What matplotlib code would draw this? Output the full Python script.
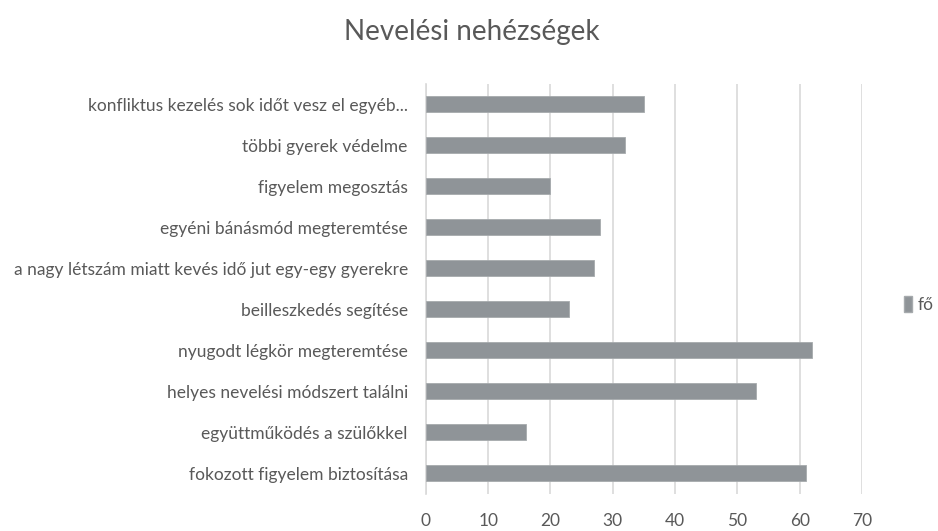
import matplotlib
matplotlib.use('Agg')
import matplotlib.pyplot as plt
from matplotlib.patches import Patch

plt.rcParams['font.family'] = ['Lato', 'DejaVu Sans']

categories = [
    'konfliktus kezelés sok időt vesz el egyéb...',
    'többi gyerek védelme',
    'figyelem megosztás',
    'egyéni bánásmód megteremtése',
    'a nagy létszám miatt kevés idő jut egy-egy gyerekre',
    'beilleszkedés segítése',
    'nyugodt légkör megteremtése',
    'helyes nevelési módszert találni',
    'együttműködés a szülőkkel',
    'fokozott figyelem biztosítása',
]
values = [35, 32, 20, 28, 27, 23, 62, 53, 16, 61]
xticks = [0, 10, 20, 30, 40, 50, 60, 70]
series_name = 'fő'
title = 'Nevelési nehézségek'

bar_color = '#8f9498'
text_color = '#595959'
grid_color = '#d9d9d9'

fig = plt.figure(figsize=(9.38, 5.31), dpi=100)
ax = fig.add_axes([0.454, 0.0706, 0.465, 0.772])

ypos = list(range(len(categories)))
ax.barh(ypos, values, height=0.39, color=bar_color, edgecolor='#a6aaad', linewidth=0.6, zorder=3)
ax.set_yticks(ypos)
ax.set_yticklabels(categories, fontsize=12.5, color=text_color)
ax.set_ylim(len(categories) - 0.5, -0.5)

ax.set_xlim(0, 70)
ax.set_xticks(xticks)
ax.set_xticklabels([str(t) for t in xticks], fontsize=12.5, color=text_color)
ax.xaxis.grid(True, color=grid_color, linewidth=1.2, zorder=0)
ax.tick_params(axis='both', length=0)
ax.tick_params(axis='x', pad=14)
ax.tick_params(axis='y', pad=13)
for s in ['top', 'right', 'bottom']:
    ax.spines[s].set_visible(False)
ax.spines['left'].set_color(grid_color)
ax.spines['left'].set_linewidth(1.2)

fig.text(0.503, 0.94, title, ha='center', va='center', fontsize=20, color=text_color)

handles = [Patch(facecolor=bar_color, edgecolor='#a6aaad', label=series_name)]
fig.legend(handles=handles, loc='center left', bbox_to_anchor=(0.964, 0.427),
           frameon=False, fontsize=12.5, labelcolor=text_color,
           handlelength=0.45, handleheight=1.05, handletextpad=0.3, borderpad=0, borderaxespad=0)

plt.savefig('out.png', dpi=100)
